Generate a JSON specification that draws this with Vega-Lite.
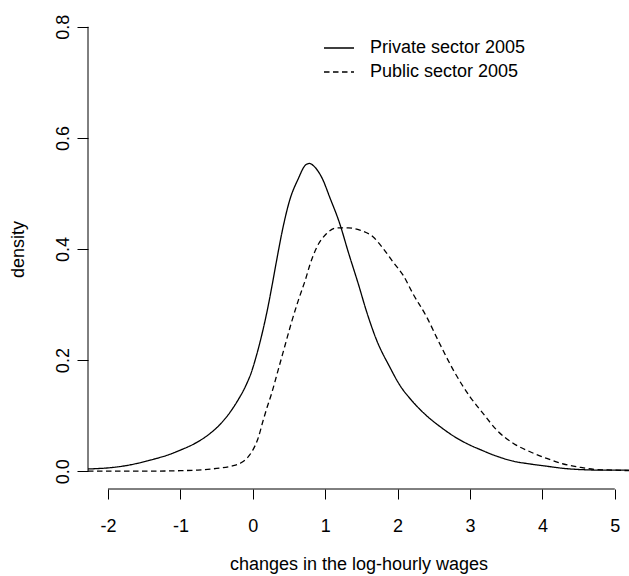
{
  "$schema": "https://vega.github.io/schema/vega-lite/v6.json",
  "width": 541,
  "height": 480,
  "autosize": {"type": "none"},
  "padding": {"left": 88, "top": 9, "right": 0, "bottom": 87},
  "background": "white",
  "config": {
    "view": {"stroke": null},
    "font": "Liberation Sans",
    "axis": {
      "grid": false,
      "domain": false,
      "tickColor": "black",
      "tickWidth": 1,
      "labelColor": "black",
      "labelFontSize": 18,
      "titleColor": "black",
      "titleFontSize": 18,
      "titleFontWeight": "normal"
    }
  },
  "datasets": {
    "curves": [
      {"sector": "Private sector 2005", "x": -2.276, "y": 0.004},
      {"sector": "Private sector 2005", "x": -2.0, "y": 0.006},
      {"sector": "Private sector 2005", "x": -1.8, "y": 0.009},
      {"sector": "Private sector 2005", "x": -1.6, "y": 0.014},
      {"sector": "Private sector 2005", "x": -1.36, "y": 0.022},
      {"sector": "Private sector 2005", "x": -1.2, "y": 0.028},
      {"sector": "Private sector 2005", "x": -1.0, "y": 0.038},
      {"sector": "Private sector 2005", "x": -0.8, "y": 0.05},
      {"sector": "Private sector 2005", "x": -0.6, "y": 0.067},
      {"sector": "Private sector 2005", "x": -0.44, "y": 0.086},
      {"sector": "Private sector 2005", "x": -0.32, "y": 0.105},
      {"sector": "Private sector 2005", "x": -0.2, "y": 0.129},
      {"sector": "Private sector 2005", "x": -0.1, "y": 0.153},
      {"sector": "Private sector 2005", "x": -0.02, "y": 0.178},
      {"sector": "Private sector 2005", "x": 0.05, "y": 0.208},
      {"sector": "Private sector 2005", "x": 0.14, "y": 0.254},
      {"sector": "Private sector 2005", "x": 0.21, "y": 0.296},
      {"sector": "Private sector 2005", "x": 0.26, "y": 0.33},
      {"sector": "Private sector 2005", "x": 0.33, "y": 0.38},
      {"sector": "Private sector 2005", "x": 0.4, "y": 0.428},
      {"sector": "Private sector 2005", "x": 0.51, "y": 0.488},
      {"sector": "Private sector 2005", "x": 0.63, "y": 0.527},
      {"sector": "Private sector 2005", "x": 0.72, "y": 0.55},
      {"sector": "Private sector 2005", "x": 0.78, "y": 0.554},
      {"sector": "Private sector 2005", "x": 0.86, "y": 0.547},
      {"sector": "Private sector 2005", "x": 0.97, "y": 0.524},
      {"sector": "Private sector 2005", "x": 1.06, "y": 0.494},
      {"sector": "Private sector 2005", "x": 1.2, "y": 0.446},
      {"sector": "Private sector 2005", "x": 1.32, "y": 0.394},
      {"sector": "Private sector 2005", "x": 1.46, "y": 0.336},
      {"sector": "Private sector 2005", "x": 1.57, "y": 0.288},
      {"sector": "Private sector 2005", "x": 1.71, "y": 0.236},
      {"sector": "Private sector 2005", "x": 1.89, "y": 0.188},
      {"sector": "Private sector 2005", "x": 2.03, "y": 0.155},
      {"sector": "Private sector 2005", "x": 2.19, "y": 0.128},
      {"sector": "Private sector 2005", "x": 2.4, "y": 0.1},
      {"sector": "Private sector 2005", "x": 2.6, "y": 0.079},
      {"sector": "Private sector 2005", "x": 2.8, "y": 0.061},
      {"sector": "Private sector 2005", "x": 3.0, "y": 0.047},
      {"sector": "Private sector 2005", "x": 3.14, "y": 0.039},
      {"sector": "Private sector 2005", "x": 3.37, "y": 0.027},
      {"sector": "Private sector 2005", "x": 3.6, "y": 0.018},
      {"sector": "Private sector 2005", "x": 3.83, "y": 0.013},
      {"sector": "Private sector 2005", "x": 4.06, "y": 0.009},
      {"sector": "Private sector 2005", "x": 4.3, "y": 0.005},
      {"sector": "Private sector 2005", "x": 4.52, "y": 0.003},
      {"sector": "Private sector 2005", "x": 4.8, "y": 0.002},
      {"sector": "Private sector 2005", "x": 5.196, "y": 0.002},
      {"sector": "Public sector 2005", "x": -2.276, "y": 0.0},
      {"sector": "Public sector 2005", "x": -1.5, "y": 0.0},
      {"sector": "Public sector 2005", "x": -1.0, "y": 0.001},
      {"sector": "Public sector 2005", "x": -0.76, "y": 0.002},
      {"sector": "Public sector 2005", "x": -0.5, "y": 0.005},
      {"sector": "Public sector 2005", "x": -0.3, "y": 0.009},
      {"sector": "Public sector 2005", "x": -0.15, "y": 0.016},
      {"sector": "Public sector 2005", "x": -0.07, "y": 0.025},
      {"sector": "Public sector 2005", "x": 0.0, "y": 0.038},
      {"sector": "Public sector 2005", "x": 0.07, "y": 0.058},
      {"sector": "Public sector 2005", "x": 0.14, "y": 0.09},
      {"sector": "Public sector 2005", "x": 0.2, "y": 0.116},
      {"sector": "Public sector 2005", "x": 0.26, "y": 0.14},
      {"sector": "Public sector 2005", "x": 0.35, "y": 0.182},
      {"sector": "Public sector 2005", "x": 0.44, "y": 0.224},
      {"sector": "Public sector 2005", "x": 0.53, "y": 0.266},
      {"sector": "Public sector 2005", "x": 0.63, "y": 0.308},
      {"sector": "Public sector 2005", "x": 0.73, "y": 0.346},
      {"sector": "Public sector 2005", "x": 0.79, "y": 0.372},
      {"sector": "Public sector 2005", "x": 0.88, "y": 0.402},
      {"sector": "Public sector 2005", "x": 1.02, "y": 0.428},
      {"sector": "Public sector 2005", "x": 1.16, "y": 0.438},
      {"sector": "Public sector 2005", "x": 1.32, "y": 0.438},
      {"sector": "Public sector 2005", "x": 1.48, "y": 0.434},
      {"sector": "Public sector 2005", "x": 1.66, "y": 0.422},
      {"sector": "Public sector 2005", "x": 1.8, "y": 0.401},
      {"sector": "Public sector 2005", "x": 1.94, "y": 0.376},
      {"sector": "Public sector 2005", "x": 2.08, "y": 0.352},
      {"sector": "Public sector 2005", "x": 2.21, "y": 0.32},
      {"sector": "Public sector 2005", "x": 2.4, "y": 0.278},
      {"sector": "Public sector 2005", "x": 2.58, "y": 0.23},
      {"sector": "Public sector 2005", "x": 2.77, "y": 0.182},
      {"sector": "Public sector 2005", "x": 3.0, "y": 0.134},
      {"sector": "Public sector 2005", "x": 3.18, "y": 0.104},
      {"sector": "Public sector 2005", "x": 3.37, "y": 0.074},
      {"sector": "Public sector 2005", "x": 3.6, "y": 0.05},
      {"sector": "Public sector 2005", "x": 3.83, "y": 0.035},
      {"sector": "Public sector 2005", "x": 4.06, "y": 0.023},
      {"sector": "Public sector 2005", "x": 4.29, "y": 0.013},
      {"sector": "Public sector 2005", "x": 4.52, "y": 0.007},
      {"sector": "Public sector 2005", "x": 4.75, "y": 0.003},
      {"sector": "Public sector 2005", "x": 5.0, "y": 0.002},
      {"sector": "Public sector 2005", "x": 5.196, "y": 0.001}
    ]
  },
  "layer": [
    {
      "data": {"name": "curves"},
      "mark": {"type": "line", "interpolate": "monotone", "strokeWidth": 1.3, "color": "black"},
      "encoding": {
        "x": {
          "field": "x",
          "type": "quantitative",
          "scale": {"domain": [-2.276, 5.196], "nice": false, "zero": false},
          "axis": {
            "values": [-2, -1, 0, 1, 2, 3, 4, 5],
            "labelExpr": "'' + datum.value",
            "tickSize": 10,
            "labelBaseline": "alphabetic",
            "labelPadding": 32,
            "title": "changes in the log-hourly wages",
            "titleBaseline": "alphabetic",
            "titleY": 80
          }
        },
        "y": {
          "field": "y",
          "type": "quantitative",
          "scale": {"domain": [-0.032, 0.832], "nice": false, "zero": false},
          "axis": {
            "values": [0, 0.2, 0.4, 0.6, 0.8],
            "labelExpr": "format(datum.value, '.1f')",
            "tickSize": 11,
            "labelAngle": -90,
            "labelAlign": "center",
            "labelBaseline": "alphabetic",
            "labelPadding": 9,
            "title": "density",
            "titleAngle": -90,
            "titleAlign": "center",
            "titleBaseline": "alphabetic",
            "titleX": -65,
            "titleY": 240
          }
        },
        "strokeDash": {
          "field": "sector",
          "type": "nominal",
          "scale": {
            "domain": ["Private sector 2005", "Public sector 2005"],
            "range": [[1, 0], [5.5, 3.5]]
          },
          "legend": {
            "title": null,
            "orient": "none",
            "legendX": 242,
            "legendY": 30,
            "symbolType": "M-3,0H3",
            "symbolSize": 100,
            "symbolStrokeColor": "black",
            "symbolStrokeWidth": 1.3,
            "labelFontSize": 18,
            "labelColor": "black",
            "labelOffset": 22,
            "rowPadding": 6
          }
        }
      }
    },
    {
      "data": {"values": [{}]},
      "mark": {"type": "rule", "color": "black", "strokeWidth": 1},
      "encoding": {
        "x": {"datum": -2},
        "x2": {"datum": 5},
        "y": {"datum": -0.032}
      }
    },
    {
      "data": {"values": [{}]},
      "mark": {"type": "rule", "color": "black", "strokeWidth": 1},
      "encoding": {
        "x": {"datum": -2.276},
        "y": {"datum": 0},
        "y2": {"datum": 0.8}
      }
    }
  ]
}
